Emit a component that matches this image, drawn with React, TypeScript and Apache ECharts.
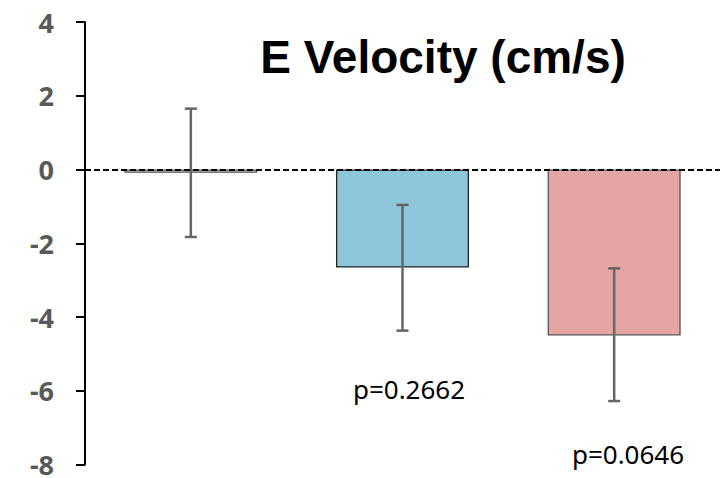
import React, { useEffect, useRef } from "react";
import * as echarts from "echarts";

const categories = ["Group A", "Group B", "Group C"];
const meanValues = [-0.09, -2.66, -4.5];
const errLow = [-1.83, -4.37, -6.28];
const errHigh = [1.65, -0.96, -2.68];
const barColors = ["#d4d4d4", "#8dc6db", "#e5a5a4"];
const barBorders = ["#555555", "#222222", "#555555"];
const yTicks = { min: -8, max: 4, interval: 2 };
const titleText = "E Velocity (cm/s)";
const pLabels = ["p=0.2662", "p=0.0646"];

export default function App() {
  const ref = useRef<HTMLDivElement>(null);
  useEffect(() => {
    if (!ref.current) return;
    const chart = echarts.init(ref.current, null, { renderer: "svg" });
    chart.setOption({
      animation: false,
      backgroundColor: "#ffffff",
      grid: { left: 85, right: 0, top: 22, bottom: 9, containLabel: false },
      xAxis: {
        type: "category",
        data: categories,
        show: false,
      },
      yAxis: {
        type: "value",
        min: yTicks.min,
        max: yTicks.max,
        interval: yTicks.interval,
        axisLine: { show: true, lineStyle: { color: "#000000", width: 2 } },
        axisTick: { show: true, inside: false, length: 9, lineStyle: { color: "#000000", width: 2 } },
        axisLabel: {
          margin: 31,
          color: "#595959",
          fontFamily: "Noto Sans",
          fontWeight: "bold",
          fontSize: 27,
          lineHeight: 18,
        },
        splitLine: { show: false },
      },
      graphic: [
        {
          type: "text",
          x: 443,
          y: 57,
          style: {
            text: titleText,
            fontFamily: "Liberation Sans",
            fontWeight: "bold",
            fontSize: 46,
            fill: "#000000",
            textAlign: "center",
            textVerticalAlign: "middle",
          },
        },
        {
          type: "text",
          x: 409,
          y: 389,
          style: {
            text: pLabels[0],
            fontFamily: "Noto Sans",
            fontSize: 26,
            fill: "#000000",
            textAlign: "center",
            textVerticalAlign: "middle",
          },
        },
        {
          type: "text",
          x: 628,
          y: 454,
          style: {
            text: pLabels[1],
            fontFamily: "Noto Sans",
            fontSize: 26,
            fill: "#000000",
            textAlign: "center",
            textVerticalAlign: "middle",
          },
        },
      ],
      series: [
        {
          type: "bar",
          barWidth: 133,
          data: meanValues.map((v, i) => ({
            value: v,
            itemStyle: { color: barColors[i], borderColor: barBorders[i], borderWidth: 1.3 },
          })),
          markLine: {
            silent: true,
            symbol: ["none", "none"],
            label: { show: false },
            lineStyle: { color: "#000000", type: [6, 3], width: 2 },
            data: [{ yAxis: 0 }],
            z: 10,
          },
          z: 2,
        },
        {
          type: "custom",
          z: 5,
          data: categories.map((_, i) => [i, errLow[i], errHigh[i]]),
          renderItem: (params: any, api: any) => {
            const i = api.value(0);
            const lo = api.coord([i, api.value(1)]);
            const hi = api.coord([i, api.value(2)]);
            const cap = 6;
            const style = { stroke: "#666666", lineWidth: 2.5 };
            return {
              type: "group",
              children: [
                { type: "line", shape: { x1: lo[0], y1: lo[1], x2: hi[0], y2: hi[1] }, style },
                { type: "line", shape: { x1: lo[0] - cap, y1: lo[1], x2: lo[0] + cap, y2: lo[1] }, style },
                { type: "line", shape: { x1: hi[0] - cap, y1: hi[1], x2: hi[0] + cap, y2: hi[1] }, style },
              ],
            };
          },
        },
      ],
    });
    return () => chart.dispose();
  }, []);
  return <div ref={ref} style={{ width: 720, height: 478, position: "absolute", left: 0, top: 0 }} />;
}
